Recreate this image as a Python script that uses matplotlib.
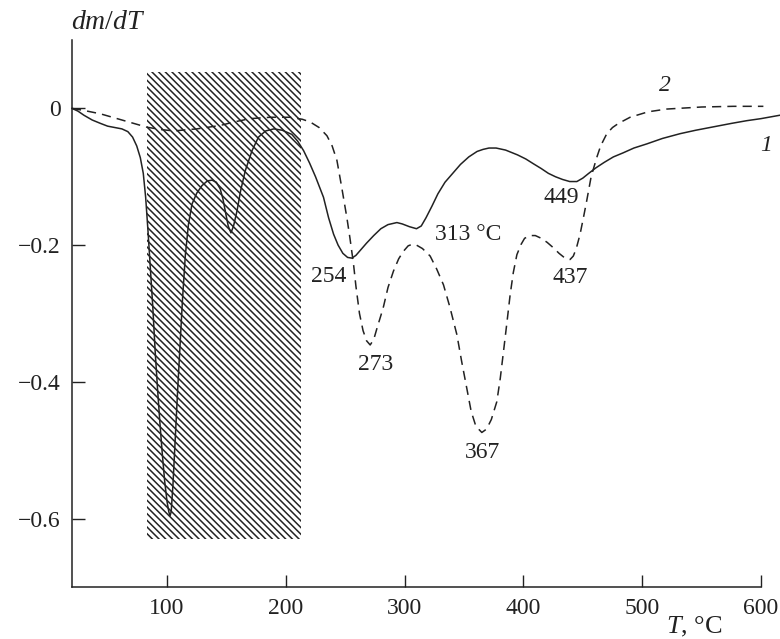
import matplotlib
matplotlib.use("Agg")
import matplotlib.pyplot as plt
from matplotlib.patches import Rectangle

plt.rcParams["font.family"] = ["Liberation Serif", "DejaVu Serif"]
plt.rcParams["mathtext.fontset"] = "custom"
plt.rcParams["mathtext.rm"] = "Liberation Serif"
plt.rcParams["mathtext.it"] = "Liberation Serif:italic"
plt.rcParams["hatch.linewidth"] = 1.1

# curve 1 (solid)
t1 = [20, 25, 30, 37, 44, 50, 56, 62, 67, 71, 74.5, 77.5, 80, 82, 84, 86, 88, 90,
      92, 94, 96, 98, 100, 101.5, 102.5, 103.5, 105, 107, 109, 111, 113, 115.4, 118,
      121, 125, 129.4, 134, 137.9, 141.5, 144.8, 147, 149, 151.5, 153.8, 156, 158.9,
      162, 165.9, 171.5, 177, 183, 190, 197, 205, 210, 215, 220, 225, 231.7, 236,
      240.2, 244, 248, 252, 255.6, 259, 263, 268, 274, 280, 286, 293.5, 298, 304,
      310, 314, 318, 323, 328, 334, 341, 347, 354, 361, 366, 371, 377, 385, 395, 402,
      408.4, 415, 421, 427, 433, 439, 445, 450, 455, 461, 468, 475.7, 484, 493, 503.8,
      517, 531.9, 545, 560, 575, 588, 600, 616]
v1 = [0, -0.004, -0.010, -0.017, -0.022, -0.026, -0.028, -0.030, -0.034, -0.042,
      -0.055, -0.072, -0.095, -0.13, -0.18, -0.235, -0.29, -0.355, -0.41, -0.46,
      -0.505, -0.545, -0.575, -0.59, -0.596, -0.59, -0.55, -0.48, -0.41, -0.345,
      -0.28, -0.215, -0.17, -0.14, -0.124, -0.113, -0.106, -0.105, -0.108, -0.118,
      -0.132, -0.15, -0.172, -0.182, -0.172, -0.15, -0.12, -0.091, -0.062, -0.042,
      -0.033, -0.030, -0.032, -0.038, -0.048, -0.062, -0.08, -0.10, -0.13, -0.16,
      -0.184, -0.20, -0.212, -0.218, -0.219, -0.215, -0.207, -0.197, -0.186, -0.176,
      -0.17, -0.167, -0.169, -0.173, -0.176, -0.172, -0.16, -0.143, -0.125, -0.108,
      -0.094, -0.082, -0.071, -0.063, -0.060, -0.058, -0.058, -0.061, -0.068, -0.074,
      -0.081, -0.088, -0.095, -0.100, -0.104, -0.107, -0.107, -0.102, -0.095, -0.087,
      -0.079, -0.071, -0.065, -0.058, -0.052, -0.044, -0.037, -0.032, -0.027, -0.022,
      -0.018, -0.015, -0.010]

# curve 2 (dashed)
t2 = [20, 30, 44, 60, 72, 83, 95, 105.6, 125, 144.8, 156, 170, 186.9, 203.7, 214,
      220.6, 228, 234.6, 239, 243, 247, 251.4, 254, 257, 259, 262, 265, 268, 271,
      274, 277, 280, 282.2, 286, 290.6, 295, 299, 303, 306.1, 310, 315, 321.5, 327,
      332.7, 338, 344, 348, 352.4, 356, 360, 365, 369, 373, 377.6, 380.5, 383.2, 386,
      388.8, 391.5, 394.5, 398, 401, 405.7, 410, 415, 420, 425.3, 430, 435, 439.3,
      442, 444.5, 447.7, 450.5, 453.3, 457, 461.7, 465, 470.2, 475, 480, 489.8, 505,
      520.6, 550, 576.7, 602]
v2 = [0, -0.003, -0.008, -0.016, -0.022, -0.0275, -0.031, -0.033, -0.030, -0.025,
      -0.020, -0.015, -0.013, -0.013, -0.016, -0.020, -0.028, -0.040, -0.055, -0.076,
      -0.115, -0.16, -0.19, -0.228, -0.26, -0.30, -0.325, -0.34, -0.346, -0.338,
      -0.32, -0.303, -0.29, -0.262, -0.238, -0.22, -0.209, -0.201, -0.199, -0.200,
      -0.205, -0.216, -0.235, -0.258, -0.29, -0.331, -0.37, -0.41, -0.443, -0.465,
      -0.474, -0.469, -0.455, -0.429, -0.395, -0.356, -0.315, -0.273, -0.24, -0.214,
      -0.199, -0.19, -0.186, -0.186, -0.19, -0.196, -0.204, -0.212, -0.219, -0.221,
      -0.216, -0.205, -0.184, -0.16, -0.135, -0.10, -0.072, -0.055, -0.037, -0.028,
      -0.022, -0.013, -0.005, -0.001, 0.002, 0.003, 0.003]

# shaded region
band_t = [83, 213]
band_v = [-0.63, 0.053]

# peak labels
peak_text = ["254", "273", "313 °C", "367", "449", "437"]
peak_t = [236, 275.8, 353.7, 365.6, 431.8, 439.3]
peak_v = [-0.246, -0.375, -0.184, -0.503, -0.130, -0.248]

fig = plt.figure(figsize=(7.8, 6.39), dpi=100)
ax = fig.add_axes([72 / 780, 52 / 639, 689 / 780, 547 / 639])

ax.add_patch(Rectangle((band_t[0], band_v[0]), band_t[1] - band_t[0],
                       band_v[1] - band_v[0], fill=False, hatch="\\\\\\\\\\",
                       edgecolor="#222222", lw=0))

ax.plot(t1, v1, color="#222222", lw=1.1, clip_on=False)
ax.plot(t2, v2, color="#222222", lw=1.1, ls=(0, (6, 4)), clip_on=False)

for s, x, y in zip(peak_text, peak_t, peak_v):
    ax.text(x, y, s, fontsize=17, ha="center", va="center", color="#222222")

ax.text(604, -0.054, "1", fontsize=17, style="italic", ha="center", va="center",
        color="#222222", clip_on=False)
ax.text(519, 0.034, "2", fontsize=17, style="italic", ha="center", va="center",
        color="#222222")

ax.text(19, 0.126, "$dm/dT$", fontsize=20, ha="left", va="center",
        color="#222222", clip_on=False)
ax.text(520, -0.758, "$T$, °C", fontsize=19, ha="left", va="center",
        color="#222222", clip_on=False)

ax.set_xlim(20, 600)
ax.set_ylim(-0.7, 0.1)
ax.set_xticks([100, 200, 300, 400, 500, 600])
ax.set_yticks([0, -0.2, -0.4, -0.6])
ax.set_yticklabels(["0", "\u22120.2", "\u22120.4", "\u22120.6"])
ax.spines["top"].set_visible(False)
ax.spines["right"].set_visible(False)
for sp in ("left", "bottom"):
    ax.spines[sp].set_linewidth(1.1)
    ax.spines[sp].set_color("#222222")
ax.tick_params(direction="in", length=9, width=1.0, labelsize=17, pad=8,
               colors="#222222")

fig.savefig("out.png", dpi=100)
